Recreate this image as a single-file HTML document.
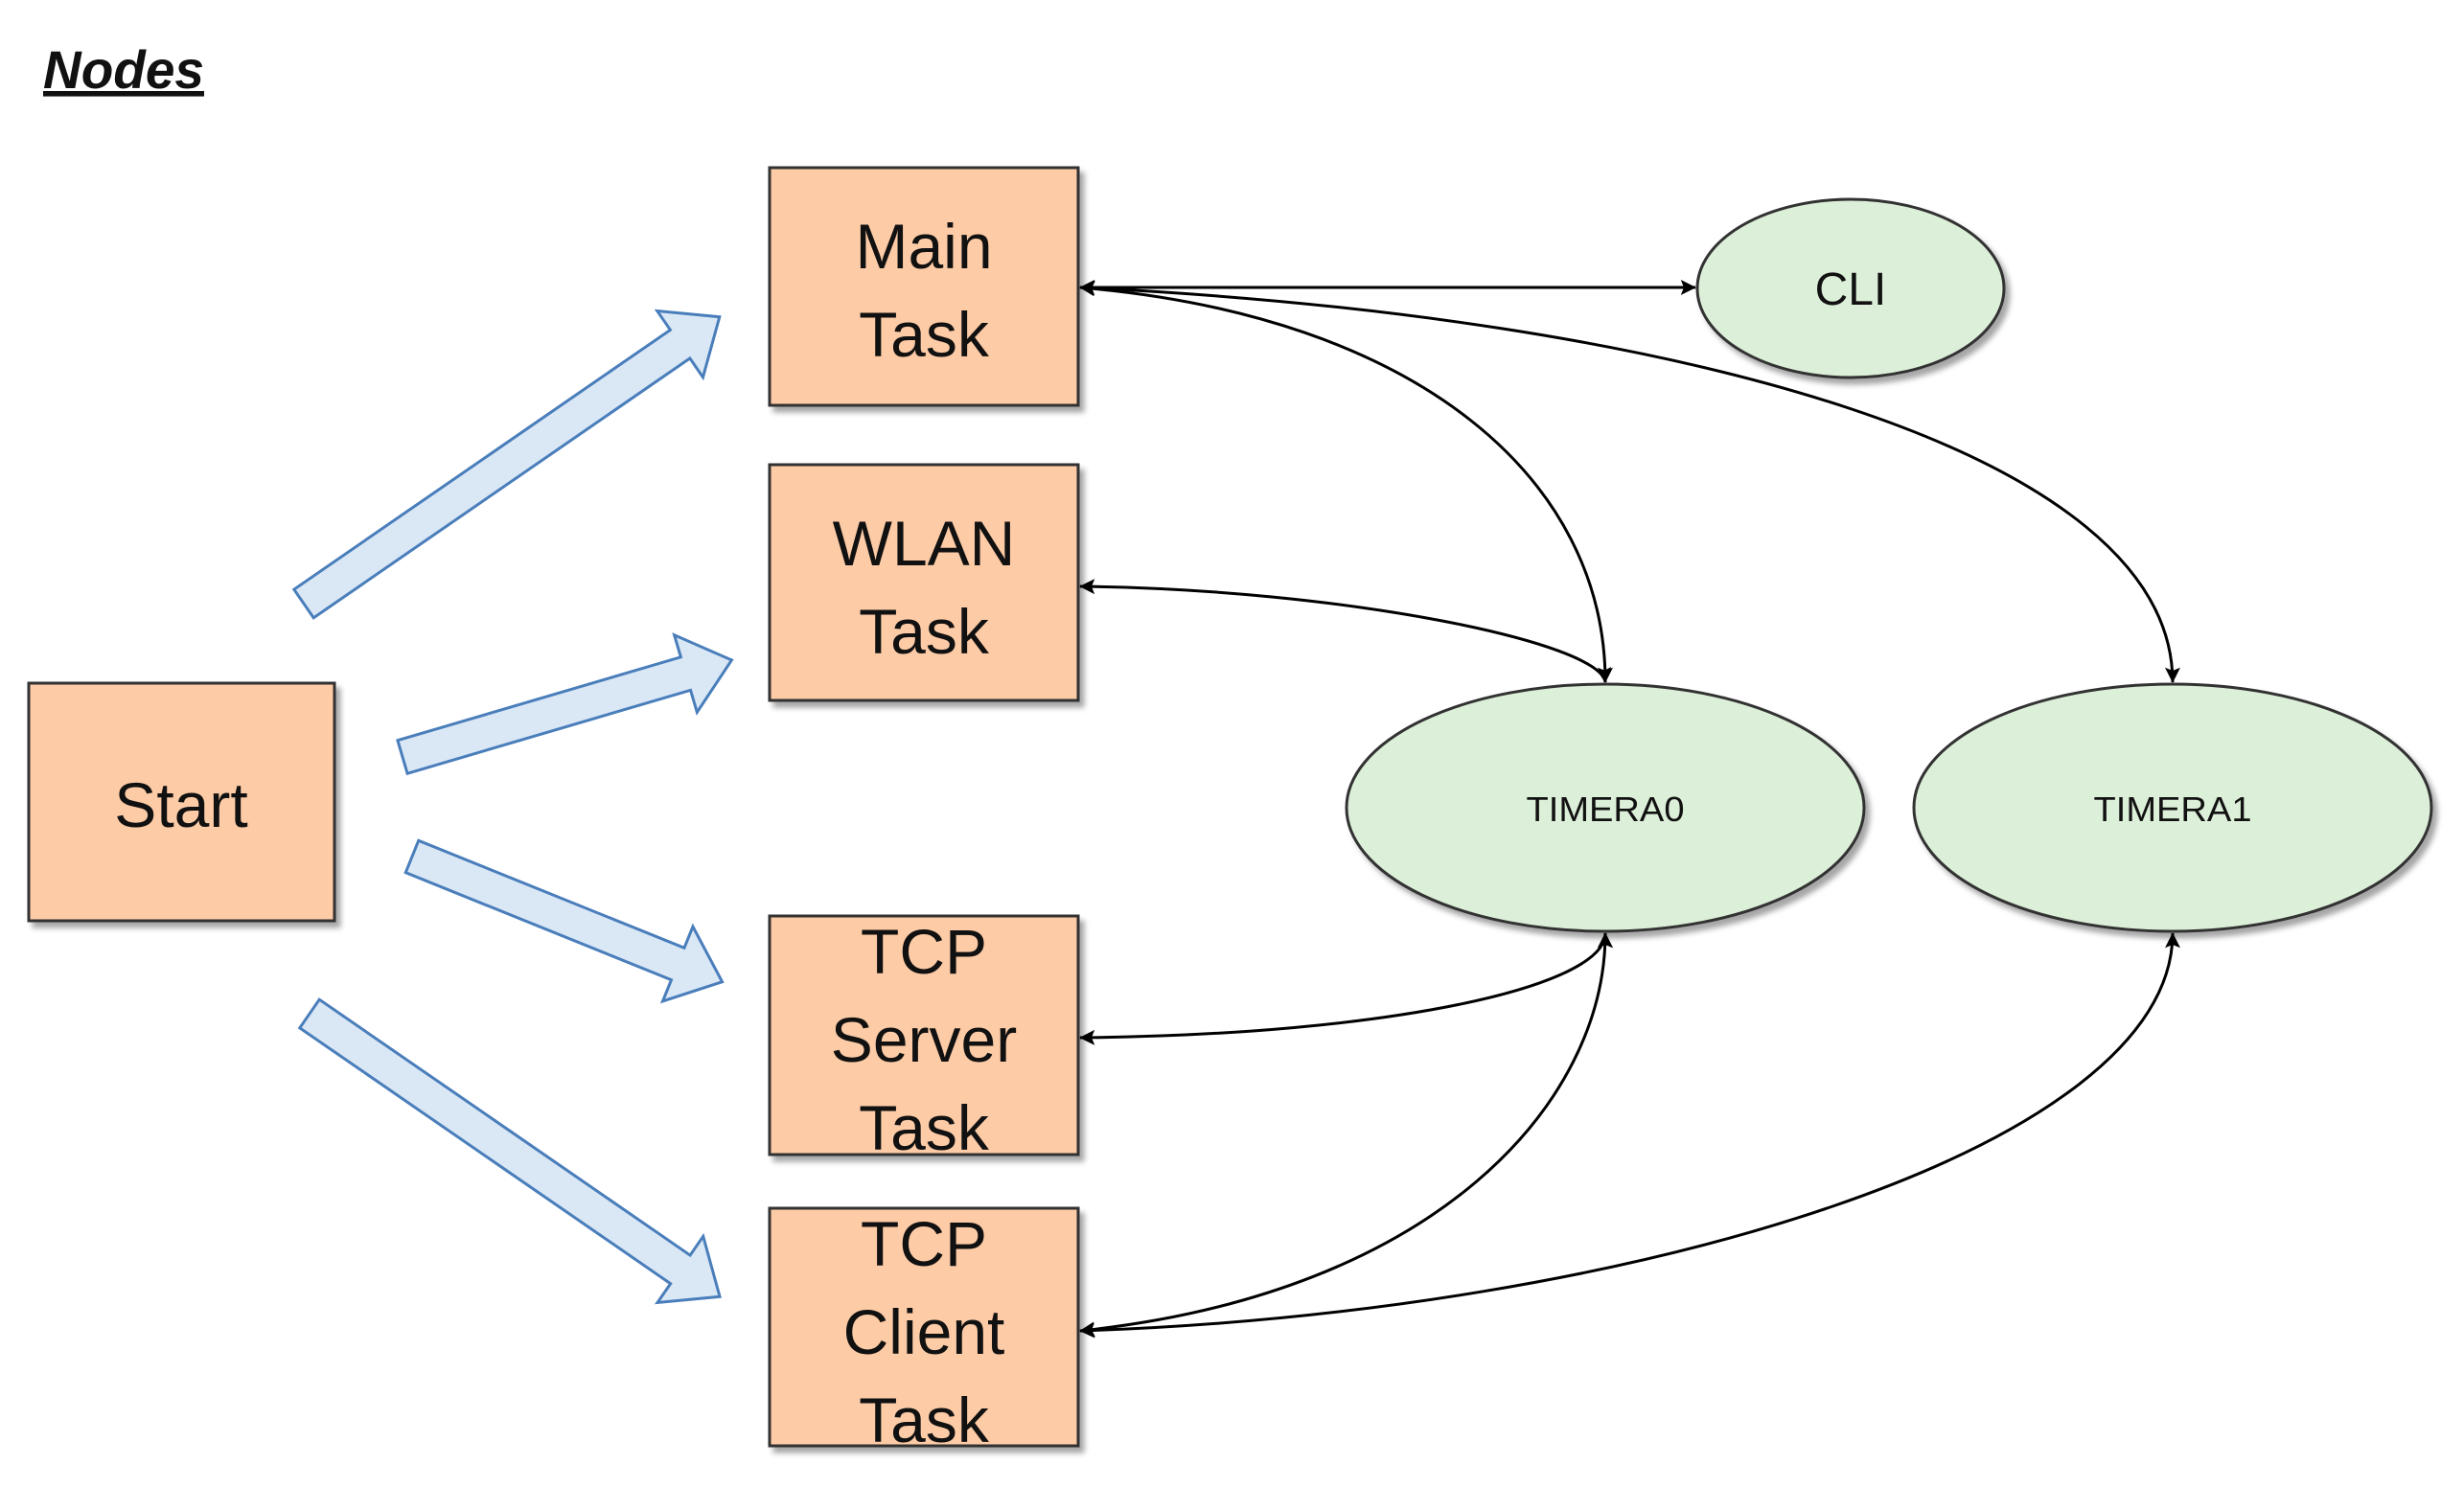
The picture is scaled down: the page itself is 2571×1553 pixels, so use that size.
<!DOCTYPE html>
<html><head><meta charset="utf-8"><style>
html,body{margin:0;padding:0;background:#fff;}
svg{display:block;}
text{font-family:"Liberation Sans",sans-serif;fill:#111;}
</style></head><body>
<svg width="2571" height="1553" viewBox="0 0 2571 1553" xmlns="http://www.w3.org/2000/svg">
<defs>
<filter id="sh" x="-10%" y="-10%" width="130%" height="130%">
<feDropShadow dx="5" dy="6" stdDeviation="3" flood-color="#000" flood-opacity="0.35"/>
</filter>
<marker id="a2" viewBox="0 0 10 10" refX="9.5" refY="5" markerWidth="18" markerHeight="16" orient="auto-start-reverse" markerUnits="userSpaceOnUse">
<path d="M0,0 L10,5 L0,10 L2,5 z" fill="#000"/>
</marker>
</defs>

<text x="45" y="92" font-size="56" font-weight="bold" font-style="italic" text-decoration="underline" textLength="168" lengthAdjust="spacingAndGlyphs">Nodes</text>

<g fill="#dae8f6" stroke="#4a7ebb" stroke-width="3" stroke-linejoin="miter">
<polygon transform="translate(317,630) rotate(-34.6)" points="0,-18 477,-18 477,-42 527,0 477,42 477,18 0,18"/>
<polygon transform="translate(420,790) rotate(-16.4)" points="0,-18 308,-18 308,-42 358,0 308,42 308,18 0,18"/>
<polygon transform="translate(430,894) rotate(22.0)" points="0,-18 299,-18 299,-42 349,0 299,42 299,18 0,18"/>
<polygon transform="translate(323,1058) rotate(34.6)" points="0,-18 470,-18 470,-42 520,0 470,42 470,18 0,18"/>
</g>

<g fill="#fdcba6" stroke="#333" stroke-width="3" filter="url(#sh)">
<rect x="803" y="175" width="322" height="248"/>
<rect x="803" y="485" width="322" height="246"/>
<rect x="30" y="713" width="319" height="248"/>
<rect x="803" y="956" width="322" height="249"/>
<rect x="803" y="1261" width="322" height="248"/>
</g>
<g fill="#dcefd8" stroke="#333" stroke-width="3" filter="url(#sh)">
<ellipse cx="1931" cy="301" rx="160" ry="93"/>
<ellipse cx="1675" cy="843" rx="270" ry="129"/>
<ellipse cx="2267" cy="843" rx="270" ry="129"/>
</g>

<g fill="none" stroke="#000" stroke-width="3" marker-start="url(#a2)" marker-end="url(#a2)">
<path d="M1127,300 L1769,300"/>
<path d="M1127,300 C1480,330 1675,500 1675,712"/>
<path d="M1127,300 C1750,330 2267,470 2267,712"/>
<path d="M1127,612 C1400,615 1670,670 1675,712"/>
<path d="M1127,1083 C1450,1080 1675,1030 1675,974"/>
<path d="M1127,1389 C1500,1350 1675,1150 1675,974"/>
<path d="M1127,1389 C1700,1370 2267,1200 2267,974"/>
</g>

<g font-size="66" text-anchor="middle">
<text x="964" y="280">Main</text>
<text x="964" y="372">Task</text>
<text x="964" y="590">WLAN</text>
<text x="964" y="682">Task</text>
<text x="189" y="863">Start</text>
<text x="964" y="1016">TCP</text>
<text x="964" y="1108">Server</text>
<text x="964" y="1200">Task</text>
<text x="964" y="1321">TCP</text>
<text x="964" y="1413">Client</text>
<text x="964" y="1505">Task</text>
</g>
<text x="1931" y="318" font-size="48" text-anchor="middle">CLI</text>
<text x="1675" y="857" font-size="36" text-anchor="middle" textLength="165" lengthAdjust="spacingAndGlyphs">TIMERA0</text>
<text x="2267" y="857" font-size="36" text-anchor="middle" textLength="165" lengthAdjust="spacingAndGlyphs">TIMERA1</text>
</svg>
</body></html>
